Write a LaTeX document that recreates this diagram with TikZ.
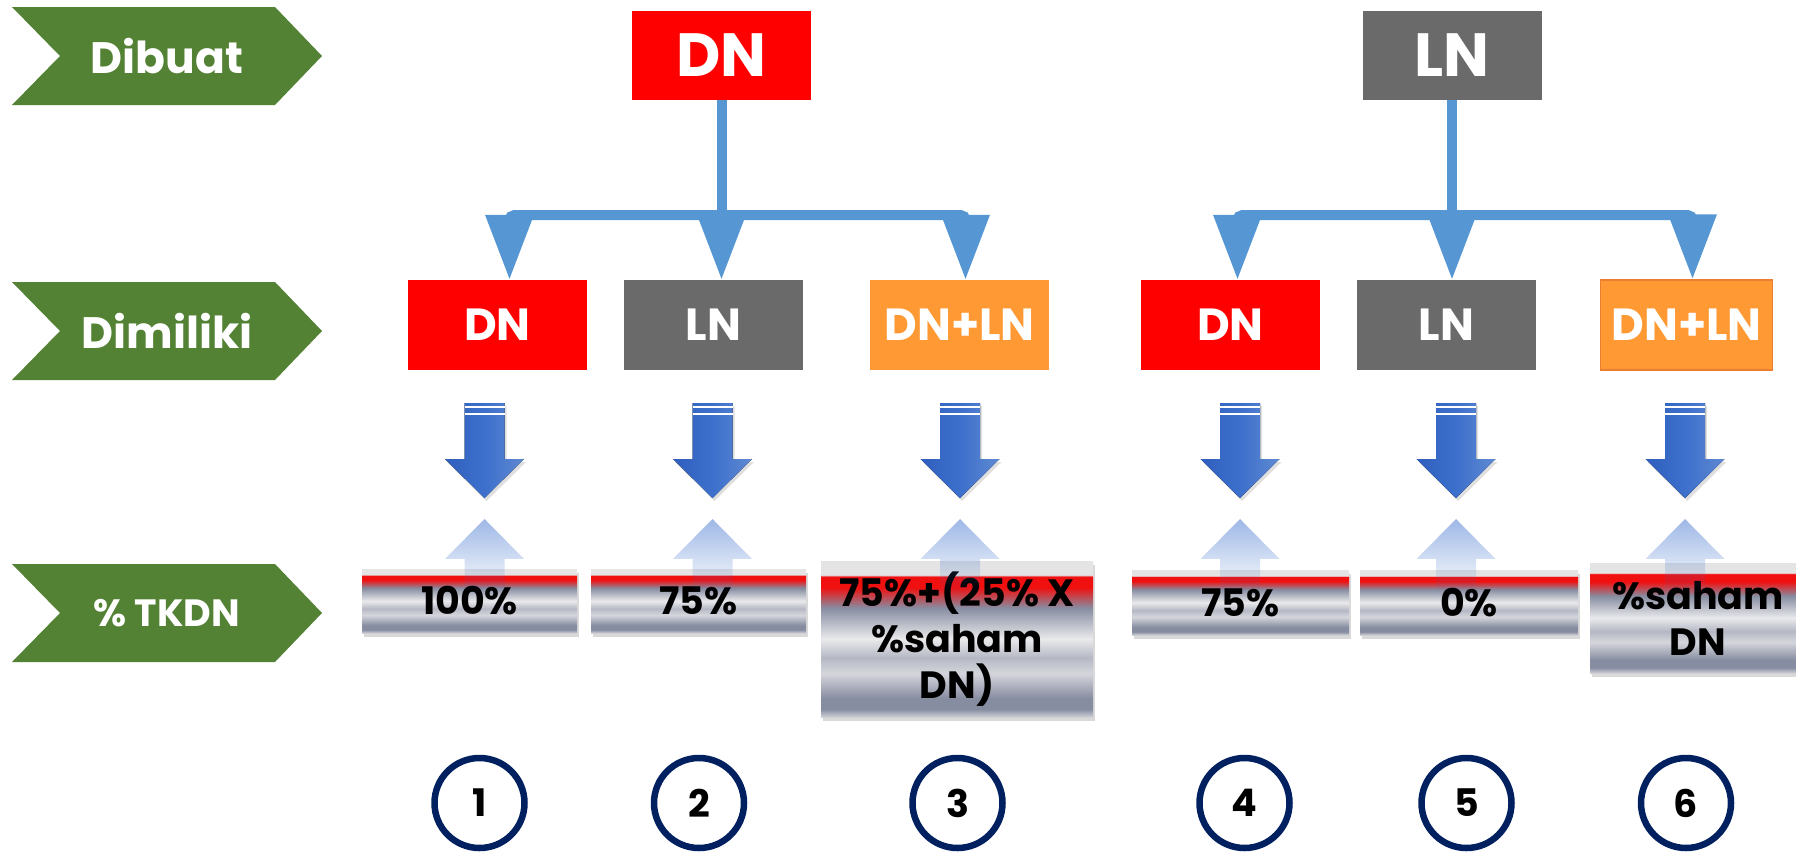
\documentclass[tikz,border=0pt]{standalone}
\usepackage{fontspec}
\setmainfont{Poppins}
\usetikzlibrary{arrows.meta,shadows,fadings}
\definecolor{chev_green}{RGB}{84,130,53}
\definecolor{box_red}{RGB}{255,0,0}
\definecolor{box_gray}{RGB}{106,106,106}
\definecolor{box_orange}{RGB}{255,153,51}
\definecolor{edge_orange}{RGB}{237,125,49}
\definecolor{line_blue}{RGB}{86,151,211}
\definecolor{arr_dark}{RGB}{47,95,190}
\definecolor{arr_blue}{RGB}{61,112,204}
\definecolor{arr_lite}{RGB}{95,137,210}
\definecolor{ring_navy}{RGB}{0,32,96}
\definecolor{bar_top}{RGB}{228,228,228}
\definecolor{bar_red}{RGB}{240,16,16}
\definecolor{bar_dark}{RGB}{135,141,161}
\definecolor{bar_mid}{RGB}{181,184,196}
\definecolor{bar_soft}{RGB}{213,214,220}
\definecolor{bar_lite}{RGB}{234,234,236}
\definecolor{bar_base}{RGB}{207,208,214}
\pgfdeclareverticalshading{metalbar}{100bp}{color(0bp)=(bar_base); color(25bp)=(bar_base); color(27.5bp)=(bar_dark); color(31bp)=(bar_dark); color(39bp)=(bar_soft); color(44bp)=(bar_mid); color(50bp)=(bar_lite); color(60bp)=(bar_dark); color(66.5bp)=(bar_red); color(70bp)=(bar_red); color(70.5bp)=(bar_top); color(100bp)=(bar_top)}
\newcommand\downarr[1]{%
  \fill[darr] ({#1-20},403) -- ({#1+20},403) -- ({#1+20},459) -- ({#1+39.5},459) -- (#1,498) -- ({#1-39.5},459) -- ({#1-20},459) -- cycle;
  \fill[white] ({#1-20},405.5) rectangle ({#1+20},407.5);
  \fill[white] ({#1-20},413) rectangle ({#1+20},415);}
\newcommand\uparr[1]{%
  \fill[uarr] (#1,519) -- ({#1+39.5},559) -- ({#1+20},559) -- ({#1+20},594) -- ({#1-20},594) -- ({#1-20},559) -- ({#1-39.5},559) -- cycle;}

\begin{document}
\begin{tikzpicture}[x=1pt,y=-1pt]
    \tikzstyle{chev}=[fill=chev_green]
    \tikzstyle{chevtxt}=[text=white, inner sep=0pt, font=\bfseries\fontsize{44}{50}\selectfont]
    \tikzstyle{box}=[rectangle, minimum width=179pt, minimum height=89pt, inner sep=0pt, text=white]
    \tikzstyle{headbox}=[style=box, font=\bfseries\fontsize{61}{70}\selectfont]
    \tikzstyle{ownbox}=[style=box, minimum height=90pt, font=\bfseries\fontsize{45}{52}\selectfont]
    \tikzstyle{feed}=[draw=line_blue, line width=10pt]
    \tikzstyle{bus}=[draw=line_blue, line width=10pt, rounded corners=5pt, -{Triangle[width=46pt,length=65pt]}]
    \tikzstyle{darr}=[left color=arr_dark, right color=arr_lite, middle color=arr_blue, drop shadow={shadow xshift=2pt, shadow yshift=-3pt, opacity=0.25}]
    \tikzstyle{uarr}=[fill=arr_blue, fill opacity=0.5, path fading=south]
    \tikzstyle{barbox}=[rectangle, inner sep=0pt, shading=metalbar, align=center, text=black, drop shadow={shadow xshift=1.5pt, shadow yshift=-4pt, opacity=0.3}, font=\bfseries\fontsize{38}{46}\selectfont]
    \tikzstyle{numring}=[circle, draw=ring_navy, line width=6.5pt, minimum size=90pt, inner sep=0pt, text=black, font=\bfseries\fontsize{38}{44}\selectfont]

    \useasboundingbox (0,0) rectangle (1796,852);

    \fill[chev] (12,7) -- (275,7) -- (322,56) -- (275,105) -- (12,105) -- (60,56) -- cycle;
    \node[chevtxt] (made) at (167,56) {Dibuat};
    \fill[chev] (12,282) -- (275,282) -- (322,331) -- (275,380) -- (12,380) -- (60,331) -- cycle;
    \node[chevtxt] (owned) at (167,331) {Dimiliki};
    \fill[chev] (12,564) -- (275,564) -- (322,613) -- (275,662) -- (12,662) -- (60,613) -- cycle;
    \node[chevtxt, font=\bfseries\fontsize{38}{44}\selectfont] (tkdn) at (167,613) {\% TKDN};

    \node[headbox, fill=box_red]  (tDN) at (721.5,55.5) {DN};
    \node[headbox, fill=box_gray] (tLN) at (1452,55.5)  {LN};

    \node[ownbox, fill=box_red]    (dn1) at (497.5,325)  {DN};
    \node[ownbox, fill=box_gray]   (ln1) at (713.5,325)  {LN};
    \node[ownbox, fill=box_orange] (dl1) at (959.5,325)  {DN+LN};
    \node[ownbox, fill=box_red]    (dn2) at (1230.5,325) {DN};
    \node[ownbox, fill=box_gray]   (ln2) at (1446.5,325) {LN};
    \node[ownbox, fill=box_orange, draw=edge_orange, line width=1.5pt, minimum width=172pt] (dl2) at (1686.5,325) {DN+LN};

    \coordinate (hubL) at (tDN.south |- 0,215);
    \coordinate (hubR) at (tLN.south |- 0,215);
    \path
     (tDN.south) edge[feed] (hubL)
     (tLN.south) edge[feed] (hubR)
     ;
    \draw[bus] (hubL) -| ([xshift=12pt]dn1.north);
    \draw[bus] (hubL) -- (hubL |- ln1.north);
    \draw[bus] (hubL) -| ([xshift=6pt]dl1.north);
    \draw[bus] (hubR) -| ([xshift=7pt]dn2.north);
    \draw[bus] (hubR) -- (hubR |- ln2.north);
    \draw[bus] (hubR) -| ([xshift=6pt]dl2.north);

    \downarr{484.5}  \downarr{712.5}  \downarr{960}
    \downarr{1240}   \downarr{1456}   \downarr{1685}

    \node[barbox, minimum width=215pt, minimum height=64pt]  (p1) at (469.5,601) {100\%};
    \node[barbox, minimum width=215pt, minimum height=64pt]  (p2) at (698.5,601) {75\%};
    \node[barbox, minimum width=272pt, minimum height=156pt] (p3) at (957,639)   {75\%+(25\% X\\\%saham\\DN)};
    \node[barbox, minimum width=217pt, minimum height=65pt]  (p4) at (1240.5,602.5) {75\%};
    \node[barbox, minimum width=218pt, minimum height=65pt]  (p5) at (1469,602.5) {0\%};
    \node[barbox, minimum width=216pt, minimum height=110pt] (p6) at (1698,618)  {\%saham\\DN};

    \uparr{484.5}  \uparr{712.5}  \uparr{960}
    \uparr{1240}   \uparr{1456}   \uparr{1685}

    \node[numring] (c1) at (479.5,803) {1};
    \node[numring] (c2) at (699,803)   {2};
    \node[numring] (c3) at (957.5,803) {3};
    \node[numring] (c4) at (1244.5,803) {4};
    \node[numring] (c5) at (1466.5,803) {5};
    \node[numring] (c6) at (1686,803)  {6};
\end{tikzpicture}
\end{document}
